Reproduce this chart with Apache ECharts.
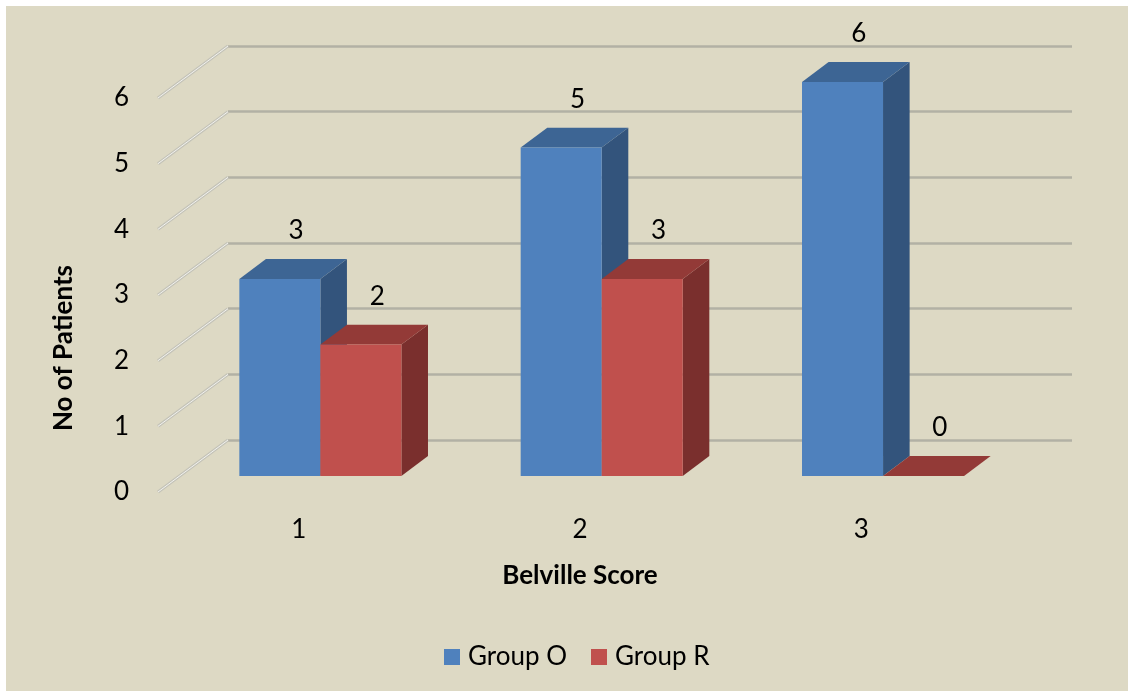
<!DOCTYPE html>
<html>
<head>
<meta charset="utf-8">
<script src="https://cdn.jsdelivr.net/npm/echarts@6/dist/echarts.min.js"></script>
<style>
  html, body { margin: 0; padding: 0; background: #fff; }
  #chart {
    width: 1128px; height: 691px;
    background: linear-gradient(#DDD9C4, #DDD9C4) 6px 6px / 1122px 685px no-repeat, #fff;
  }
</style>
</head>
<body>
<div id="chart"></div>
<script>
// Belville score distribution per group
const categories = ['1', '2', '3'];
const groupO = [3, 5, 6];
const groupR = [2, 3, 0];
const seriesNames = ['Group O', 'Group R'];
const valueTicks = [0, 1, 2, 3, 4, 5, 6];
const yTitle = 'No of Patients';
const xTitle = 'Belville Score';

const FONT = 'Lato, "Open Sans", sans-serif';
const DEPTH = [70, -52];          // full floor depth, front plane -> back wall
const FRONT_F = 0.31, BACK_F = 0.69; // bar slab position inside the depth
const BAR_RATIO = 0.288;

const palette = [
  { front: '#4F81BD', top: '#3D6594', side: '#33547C' },
  { front: '#C0504D', top: '#933A37', side: '#7A2F2D' }
];

function barRenderer(seriesIdx) {
  const pal = palette[seriesIdx];
  return function (params, api) {
    const cat = api.value(0), v = api.value(1);
    const top = api.coord([cat, v]);
    const base = api.coord([cat, 0]);
    const band = api.size([1, 0])[0];
    const w = band * BAR_RATIO;
    const x0 = base[0] + (seriesIdx === 0 ? -w : 0);
    const fx = DEPTH[0] * FRONT_F, fy = DEPTH[1] * FRONT_F;
    const bx = DEPTH[0] * BACK_F, by = DEPTH[1] * BACK_F;
    const ty = top[1], y0 = base[1];
    const children = [];
    children.push({
      type: 'polygon',
      shape: { points: [[x0 + w + fx, ty + fy], [x0 + w + bx, ty + by], [x0 + w + bx, y0 + by], [x0 + w + fx, y0 + fy]] },
      style: { fill: pal.side }
    });
    children.push({
      type: 'polygon',
      shape: { points: [[x0 + fx, ty + fy], [x0 + w + fx, ty + fy], [x0 + w + bx, ty + by], [x0 + bx, ty + by]] },
      style: { fill: pal.top }
    });
    if (y0 - ty > 0.5) {
      children.push({
        type: 'rect',
        shape: { x: x0 + fx, y: ty + fy, width: w, height: y0 - ty },
        style: { fill: pal.front }
      });
    }
    children.push({
      type: 'text',
      x: x0 + w / 2 + (fx + bx) / 2 + 3,
      y: ty + (fy + by) / 2 - 38,
      style: { text: String(v), fill: '#000', font: '26px ' + FONT, align: 'center', verticalAlign: 'middle' }
    });
    return { type: 'group', children: children };
  };
}

// side-wall diagonals joining the front value scale to the back wall lines
function wallRenderer(params, api) {
  const v = api.value(0);
  const x = params.coordSys.x;
  const y = api.coord([0, v])[1];
  const pts = [[x, y], [x + DEPTH[0], y + DEPTH[1]]];
  return {
    type: 'group',
    children: [
      { type: 'polyline', shape: { points: pts }, style: { stroke: '#c4c3b8', lineWidth: 3.2, fill: null } },
      { type: 'polyline', shape: { points: pts }, style: { stroke: '#f2f2ee', lineWidth: 1, fill: null } }
    ]
  };
}

const chart = echarts.init(document.getElementById('chart'), null, { renderer: 'canvas' });

chart.setOption({
  backgroundColor: 'transparent',
  animation: false,
  textStyle: { fontFamily: FONT },
  grid: [
    { left: 158, right: 126, top: 98, bottom: 199 },   // front plane
    { left: 228, right: 56, top: 46, bottom: 251 }     // back wall
  ],
  graphic: [
    {
      type: 'text', x: 64, y: 348, rotation: Math.PI / 2,
      style: { text: yTitle, fill: '#000', font: 'bold 26px ' + FONT, align: 'center', verticalAlign: 'middle' }
    }
  ],
  xAxis: [
    {
      gridIndex: 0, type: 'category', data: categories,
      axisLine: { show: false }, axisTick: { show: false },
      axisLabel: { margin: 25, fontSize: 26, color: '#000', fontFamily: FONT },
      name: xTitle, nameLocation: 'middle', nameGap: 71,
      nameTextStyle: { fontSize: 26, fontWeight: 'bold', color: '#000', fontFamily: FONT }
    },
    { gridIndex: 1, type: 'value', min: 0, max: 1, show: false }
  ],
  yAxis: [
    {
      gridIndex: 0, type: 'value', min: valueTicks[0], max: valueTicks[valueTicks.length - 1], interval: 1,
      axisLine: { show: false }, axisTick: { show: false }, splitLine: { show: false },
      axisLabel: { margin: 29, fontSize: 26, color: '#000', fontFamily: FONT }
    },
    {
      gridIndex: 1, type: 'value', min: valueTicks[0], max: valueTicks[valueTicks.length - 1], interval: 1,
      axisLine: { show: false }, axisTick: { show: false }, axisLabel: { show: false },
      splitLine: { show: true, lineStyle: { color: '#b2b1a5', width: 2.5 } }
    }
  ],
  legend: {
    data: seriesNames,
    left: 439, top: 639,
    icon: 'rect', itemWidth: 16, itemHeight: 16, itemGap: 24,
    textStyle: { fontSize: 26, color: '#000', fontFamily: FONT, padding: [0, 0, 0, 3] }
  },
  series: [
    {
      type: 'custom', name: 'wall', xAxisIndex: 0, yAxisIndex: 0, silent: true, z: 1,
      data: valueTicks.map(v => [v]),
      encode: { y: 0 },
      renderItem: wallRenderer
    },
    {
      type: 'custom', name: seriesNames[0], xAxisIndex: 0, yAxisIndex: 0,
      itemStyle: { color: palette[0].front },
      data: groupO.map((v, i) => [i, v]),
      encode: { x: 0, y: 1 },
      renderItem: barRenderer(0)
    },
    {
      type: 'custom', name: seriesNames[1], xAxisIndex: 0, yAxisIndex: 0,
      itemStyle: { color: palette[1].front },
      data: groupR.map((v, i) => [i, v]),
      encode: { x: 0, y: 1 },
      renderItem: barRenderer(1)
    }
  ]
});
</script>
</body>
</html>
